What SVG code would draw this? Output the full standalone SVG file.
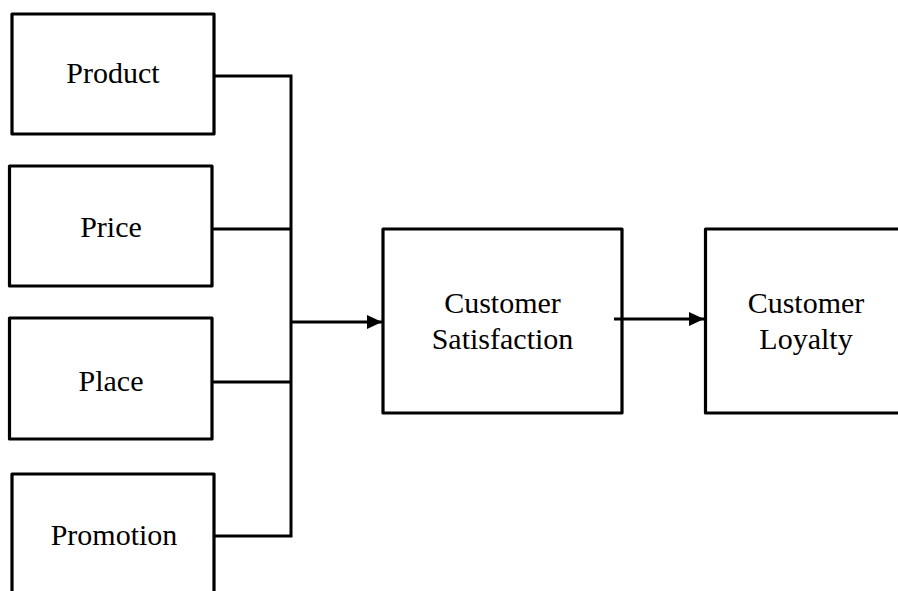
<svg xmlns="http://www.w3.org/2000/svg" width="898" height="591" viewBox="0 0 898 591">
<style>
.box{fill:#fff;stroke:#000;stroke-width:3.2;stroke-linejoin:round}
.t{font-family:"Liberation Serif","Times New Roman",serif;font-size:30px;fill:#000;text-anchor:middle}
.c{fill:none;stroke:#000;stroke-width:3}
</style>
<defs>
<marker id="ah" markerWidth="15" markerHeight="14" refX="15" refY="7" orient="auto" markerUnits="userSpaceOnUse">
<path d="M0,0 L15,7 L0,14 Z" fill="#000"/>
</marker>
</defs>
<rect width="898" height="591" fill="#fff"/>
<g id="product"><rect class="box" x="12" y="14" width="202" height="120"/><text class="t" x="113" y="83">Product</text></g>
<g id="price"><rect class="box" x="9.5" y="166" width="202.5" height="120"/><text class="t" x="111" y="237">Price</text></g>
<g id="place"><rect class="box" x="9.5" y="318" width="202.5" height="121"/><text class="t" x="111" y="391">Place</text></g>
<g id="promotion"><rect class="box" x="12" y="474" width="202" height="130"/><text class="t" x="114" y="545">Promotion</text></g>
<g id="satisfaction"><rect class="box" x="383" y="229" width="239" height="184"/><text class="t" x="502.5" y="313">Customer</text><text class="t" x="502.5" y="349">Satisfaction</text></g>
<g id="loyalty"><rect class="box" x="705.5" y="229" width="200" height="184"/><text class="t" x="806" y="313">Customer</text><text class="t" x="806" y="349">Loyalty</text></g>
<g id="connectors">
<polyline class="c" points="214,76 291,76 291,536 214,536"/>
<line class="c" x1="212" y1="229" x2="291" y2="229"/>
<line class="c" x1="212" y1="382" x2="291" y2="382"/>
<line class="c" x1="291" y1="322" x2="382" y2="322" marker-end="url(#ah)"/>
<line class="c" x1="614" y1="319" x2="704" y2="319" marker-end="url(#ah)"/>
</g>
</svg>
